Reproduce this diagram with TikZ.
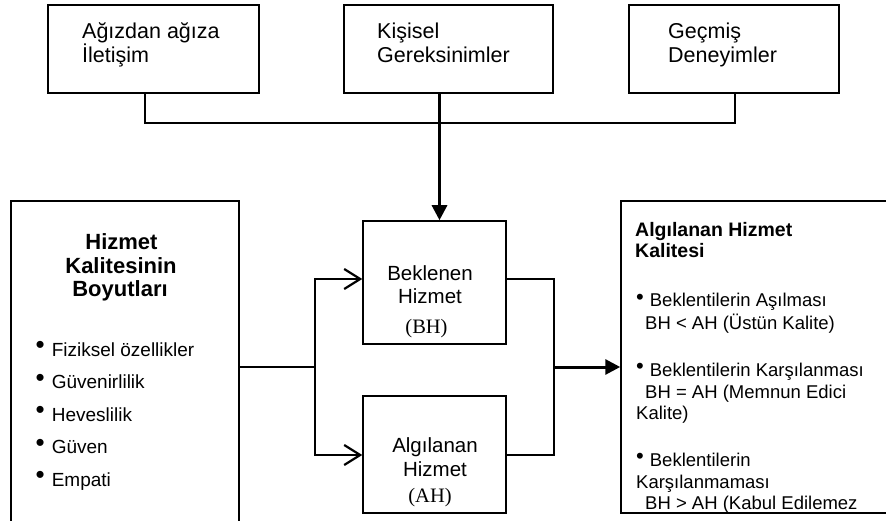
\documentclass[tikz,border=0pt]{standalone}
\usepackage{fontspec}
\setmainfont{Liberation Sans}
\newfontfamily\serifrm{Liberation Serif}
\usetikzlibrary{arrows.meta}
\newcommand\mybul{\raisebox{2.5pt}{\fontsize{26}{26}\selectfont •}\hspace{7pt}}
\newcommand\mybulr{\raisebox{2.5pt}{\fontsize{22}{22}\selectfont •}\hspace{6pt}}
\tikzset{
  box/.style={draw, line width=1.5pt, inner sep=0pt, rectangle},
  txt/.style={inner sep=0pt, anchor=base west},
  ctr/.style={inner sep=0pt, anchor=base},
  toptext/.style={txt, font=\fontsize{21.5}{24}\selectfont},
  midtext/.style={ctr, font=\fontsize{20.5}{22}\selectfont},
  sertext/.style={ctr, font=\serifrm\fontsize{20.5}{22}\selectfont},
  lbold/.style={ctr, font=\bfseries\fontsize{22}{24}\selectfont},
  ltext/.style={txt, font=\fontsize{19}{22}\selectfont},
  rbold/.style={txt, font=\bfseries\fontsize{19.5}{22}\selectfont},
  rtext/.style={txt, font=\fontsize{18.5}{21}\selectfont},
  conn/.style={line width=1.5pt},
  conn2/.style={line width=2pt},
  thickarr/.style={line width=3pt, -{Triangle[length=15pt,width=15pt]}},
  openarr/.style={line width=2pt, -{Straight Barb[length=16pt,width=20pt,line width=2.2pt]}}
}
\begin{document}
\begin{tikzpicture}[x=1pt,y=-1pt]
\useasboundingbox (0,0) rectangle (886,521);
\clip (0,0) rectangle (886,521);
\fill[white] (0,0) rectangle (886,521);

% top boxes
\node[box, minimum width=211pt, minimum height=88pt] (t1) at (153.5,49) {};
\node[box, minimum width=209pt, minimum height=88pt] (t2) at (448.5,49) {};
\node[box, minimum width=210pt, minimum height=88pt] (t3) at (734,49) {};
\node[toptext] (t1a) at (82,39) {Ağızdan ağıza};
\node[toptext] (t1b) at (82,63) {İletişim};
\node[toptext] (t2a) at (377,39) {Kişisel};
\node[toptext] (t2b) at (377,63) {Gereksinimler};
\node[toptext] (t3a) at (668,39) {Geçmiş};
\node[toptext] (t3b) at (668,63) {Deneyimler};

% middle boxes
\node[box, minimum width=143pt, minimum height=123pt] (bh) at (434.5,282.5) {};
\node[box, minimum width=143pt, minimum height=117pt] (ah) at (434.5,454.5) {};
\node[midtext] (bh1) at (430,281) {Beklenen};
\node[midtext] (bh2) at (430,304) {Hizmet};
\node[sertext] (bh3) at (426.5,333) {(BH)};
\node[midtext] (ah1) at (435,452) {Algılanan};
\node[midtext] (ah2) at (435,476) {Hizmet};
\node[sertext] (ah3) at (430,502) {(AH)};

% left box
\node[box, minimum width=228pt, minimum height=359pt] (lb) at (125,380.5) {};
\node[lbold] (lb1) at (121.5,250) {Hizmet};
\node[lbold] (lb2) at (121,273.5) {Kalitesinin};
\node[lbold] (lb3) at (120,297) {Boyutları};
\node[ltext] (lb4) at (35.5,356) {\mybul Fiziksel özellikler};
\node[ltext] (lb5) at (35.5,388.5) {\mybul Güvenirlilik};
\node[ltext] (lb6) at (35.5,421) {\mybul Heveslilik};
\node[ltext] (lb7) at (35.5,453.5) {\mybul Güven};
\node[ltext] (lb8) at (35.5,486) {\mybul Empati};

% right box
\node[box, minimum width=299pt, minimum height=312pt] (rk) at (770.5,357) {};
\node[rbold] (rk1) at (635,237) {Algılanan Hizmet};
\node[rbold] (rk2) at (635,257.5) {Kalitesi};
\node[rtext] (rk3) at (636,307) {\mybulr Beklentilerin Aşılması};
\node[rtext] (rk4) at (645,329) {BH < AH (Üstün Kalite)};
\node[rtext] (rk5) at (636,376) {\mybulr Beklentilerin Karşılanması};
\node[rtext] (rk6) at (645,398) {BH = AH (Memnun Edici};
\node[rtext] (rk7) at (636,419) {Kalite)};
\node[rtext] (rk8) at (636,466) {\mybulr Beklentilerin};
\node[rtext] (rk9) at (636,488) {Karşılanmaması};
\node[rtext] (rk10) at (645,509) {BH > AH (Kabul Edilemez};

% helper coordinates
\coordinate (x1) at (145,0);
\coordinate (x2) at (439.5,0);
\coordinate (x3) at (735,0);
\coordinate (yh) at (0,123);
\coordinate (xs) at (315,0);
\coordinate (xr) at (554,0);
\coordinate (yb) at (0,279);
\coordinate (ya) at (0,455);
\coordinate (ym) at (0,367);

% connectors top
\draw[conn] (x1 |- t1.south) |- (x3 |- yh) -- (x3 |- t3.south);
\draw[thickarr] (x2 |- t2.south) -- (x2 |- bh.north);

% connectors middle
\draw[conn2] (lb.east |- ym) -- (xs |- ym);
\draw[openarr] (xs |- ym) |- (bh.west |- yb);
\draw[openarr] (xs |- ym) |- (ah.west |- ya);
\draw[conn] (bh.east |- yb) -| (xr |- ym);
\draw[conn] (ah.east |- ya) -| (xr |- ym);
\draw[thickarr] (xr |- ym) -- (rk.west |- ym);
\end{tikzpicture}
\end{document}
